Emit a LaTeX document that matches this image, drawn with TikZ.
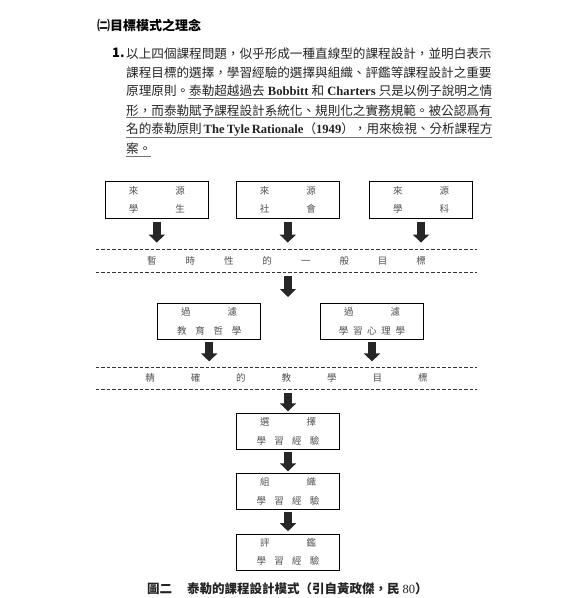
\documentclass[tikz,border=0pt]{standalone}
\usepackage{fontspec}
\setmainfont{Liberation Serif}
\newfontfamily\cjk{Noto Sans CJK TC}
\newfontfamily\lat{Liberation Serif}
\usetikzlibrary{positioning,arrows.meta}
\definecolor{boxgray}{RGB}{80,80,80}
\definecolor{textgray}{RGB}{35,35,35}

\begin{document}
\begin{tikzpicture}[x=1pt, y=-1pt, every node/.style={inner sep=0pt, font=\cjk}]
    \tikzstyle{para}=[anchor=west, font=\cjk\fontsize{12.6}{15}\selectfont, text=textgray]
    \tikzstyle{box}=[draw, line width=1pt, minimum width=103pt, minimum height=37pt, align=center, font=\cjk\fontsize{9.5}{18.3}\selectfont, text=boxgray]
    \tikzstyle{band}=[minimum width=381pt, minimum height=22.4pt, font=\cjk\fontsize{9.5}{11}\selectfont, text=boxgray]
    \tikzstyle{dashline}=[line width=0.8pt, dash pattern=on 3.5pt off 2pt, black!80]
    \tikzstyle{uline}=[line width=0.6pt, black!55]
    \tikzstyle{blk}=[line width=7.5pt, black!85, -{Triangle[length=8pt,width=16pt]}]
    \useasboundingbox (0,0) rectangle (575,598);
    % heading and paragraph
    \node[anchor=west, font=\cjk\bfseries\fontsize{13}{15}\selectfont] (head) at (97,25) {㈡目標模式之理念};
    \node[anchor=west, font=\cjk\bfseries\fontsize{13}{15}\selectfont] (num) at (112,53.3) {1.};
    \node[para] (l1) at (126,53.3) {以上四個課程問題，似乎形成一種直線型的課程設計，並明白表示};
    \node[para] (l2) at (126,72.2) {課程目標的選擇，學習經驗的選擇與組織、評鑑等課程設計之重要};
    \node[para] (l3) at (126,91.1) {\makebox[366pt][s]{原理原則。泰勒超越過去 {\lat\bfseries Bobbitt} 和 {\lat\bfseries Charters} 只是以例子說明之情}};
    \node[para] (l4) at (126,110.2) {形，而泰勒賦予課程設計系統化、規則化之實務規範。被公認爲有};
    \node[para] (l5) at (126,129.3) {\makebox[366pt][s]{名的泰勒原則 {\lat\bfseries The Tyle Rationale}（{\lat\bfseries 1949}），用來檢視、分析課程方}};
    \node[para] (l6) at (126,148.4) {案。};
    \draw[uline] ([xshift=62pt,yshift=-1.5pt]l3.south west) -- ([yshift=-1.5pt]l3.south east);
    \draw[uline] ([yshift=-1.5pt]l4.south west) -- ([yshift=-1.5pt]l4.south east);
    \draw[uline] ([yshift=-1.5pt]l5.south west) -- ([yshift=-1.5pt]l5.south east);
    \draw[uline] ([yshift=-1.5pt]l6.south west) -- ([xshift=-1pt,yshift=-1.5pt]l6.south east);
    % sources
    \node[box] (src1) at (156.8,199.8) {來\hspace{37pt}源\\學\hspace{37pt}生};
    \node[box] (src2) at (287.8,199.8) {來\hspace{37pt}源\\社\hspace{37pt}會};
    \node[box] (src3) at (421,199.8) {來\hspace{37pt}源\\學\hspace{37pt}科};
    \node[band] (gen) at (286.5,260.5) {暫\hspace{29pt}時\hspace{29pt}性\hspace{29pt}的\hspace{29pt}一\hspace{29pt}般\hspace{29pt}目\hspace{29pt}標};
    \draw[dashline] (gen.north west) -- (gen.north east);
    \draw[dashline] (gen.south west) -- (gen.south east);
    % filters
    \node[box, minimum height=36pt] (phil) at (209.2,321.3) {過\hspace{37pt}濾\\教\hspace{8.8pt}育\hspace{8.8pt}哲\hspace{8.8pt}學};
    \node[box, minimum height=36pt] (psy) at (372,321.3) {過\hspace{37pt}濾\\學\hspace{4.7pt}習\hspace{4.7pt}心\hspace{4.7pt}理\hspace{4.7pt}學};
    \node[band] (spec) at (286.5,378.3) {精\hspace{36pt}確\hspace{36pt}的\hspace{36pt}教\hspace{36pt}學\hspace{36pt}目\hspace{36pt}標};
    \draw[dashline] (spec.north west) -- (spec.north east);
    \draw[dashline] (spec.south west) -- (spec.south east);
    % learning experiences
    \node[box, minimum height=36pt] (sel) at (288,431.3) {選\hspace{37pt}擇\\學\hspace{8.3pt}習\hspace{8.3pt}經\hspace{8.3pt}驗};
    \node[box, minimum height=36pt] (org) at (288,491.3) {組\hspace{37pt}織\\學\hspace{8.3pt}習\hspace{8.3pt}經\hspace{8.3pt}驗};
    \node[box, minimum height=36pt] (eva) at (288,552.2) {評\hspace{37pt}鑑\\學\hspace{8.3pt}習\hspace{8.3pt}經\hspace{8.3pt}驗};
    \node[anchor=west, font=\cjk\bfseries\fontsize{12.5}{14}\selectfont, text=textgray] (cap) at (147,588.3) {圖二\hspace{1.2em}泰勒的課程設計模式（引自黃政傑，民 {\lat\mdseries 80}）};
    % arrows
    \coordinate (g1) at (src1 |- gen.north);
    \coordinate (g2) at (src2 |- gen.north);
    \coordinate (g3) at (src3 |- gen.north);
    \coordinate (mid) at (288,297);
    \coordinate (s1) at (phil |- spec.north);
    \coordinate (s2) at (psy |- spec.north);
    \draw[blk] ([yshift=-3.5pt]src1.south) -- ([yshift=6.5pt]g1);
    \draw[blk] ([yshift=-3.5pt]src2.south) -- ([yshift=6.5pt]g2);
    \draw[blk] ([yshift=-3.5pt]src3.south) -- ([yshift=6.5pt]g3);
    \draw[blk] ([xshift=1.5pt,yshift=-4pt]gen.south) -- (mid);
    \draw[blk] ([yshift=-2.5pt]phil.south) -- ([yshift=5.5pt]s1);
    \draw[blk] ([yshift=-2.5pt]psy.south) -- ([yshift=5.5pt]s2);
    \draw[blk] ([yshift=-3.5pt]spec.south -| sel.north) -- ([yshift=1.5pt]sel.north);
    \draw[blk] ([yshift=-2.5pt]sel.south) -- ([yshift=1.5pt]org.north);
    \draw[blk] ([yshift=-2.5pt]org.south) -- ([yshift=2.5pt]eva.north);
\end{tikzpicture}
\end{document}
